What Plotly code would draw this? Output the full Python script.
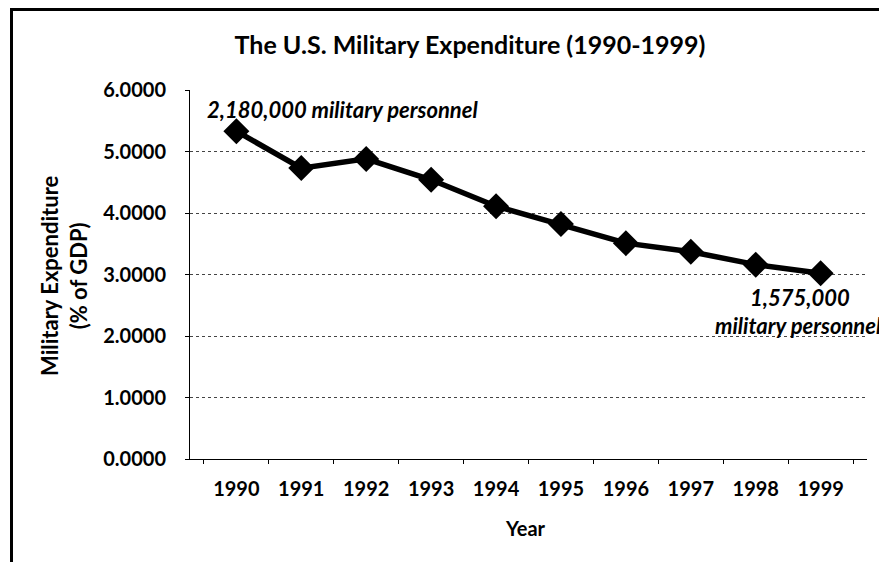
import plotly.graph_objects as go

years = ["1990", "1991", "1992", "1993", "1994", "1995", "1996", "1997", "1998", "1999"]
expenditure = [5.33, 4.73, 4.88, 4.54, 4.11, 3.82, 3.51, 3.37, 3.16, 3.02]
y_ticks = [0, 1, 2, 3, 4, 5, 6]

FONT = "Lato"
OFF = 8  # page body margin
W, H = 879, 554
L, R, T, B = 182, 20, 82, 103
pw, ph = W - L - R, H - T - B


def px2x(page_x):
    return (page_x - OFF - L) / pw


def py2y(page_y):
    return (H - B - (page_y - OFF)) / ph


fig = go.Figure()
fig.add_trace(go.Scatter(
    x=years, y=expenditure, mode="lines+markers",
    line=dict(color="black", width=5.5),
    marker=dict(symbol="diamond", size=20, color="black"),
    showlegend=False,
))

fig.update_layout(
    width=W, height=H,
    margin=dict(l=L, r=R, t=T, b=B),
    paper_bgcolor="white", plot_bgcolor="white",
    font=dict(family=FONT, color="black"),
    title=dict(text="<b>The U.S. Military Expenditure (1990-1999)</b>",
               x=px2x(470), xref="paper", xanchor="center",
               y=1 - (45 - OFF) / H, yanchor="middle",
               font=dict(size=25, family=FONT, color="black")),
    xaxis=dict(
        type="category", showgrid=False, showline=True, linecolor="black", linewidth=1,
        ticks="outside", ticklen=4, tickcolor="black", tickson="boundaries",
        ticklabelstandoff=12,
        tickfont=dict(size=20, family=FONT, color="black", weight="bold"),
    ),
    yaxis=dict(
        range=[0, 6], tickvals=y_ticks, tickformat=".4f",
        showgrid=True, gridcolor="#444444", gridwidth=1, griddash="dot",
        showline=True, linecolor="black", linewidth=1,
        ticks="outside", ticklen=4, tickcolor="black",
        ticklabelstandoff=15,
        tickfont=dict(size=20, family=FONT, color="black", weight="bold"),
        zeroline=False,
    ),
    shapes=[
        dict(type="rect", xref="paper", yref="paper",
             x0=px2x(11.5), x1=px2x(920), y0=py2y(620), y1=py2y(9.5),
             line=dict(color="black", width=3), fillcolor="rgba(0,0,0,0)", layer="above"),
    ],
    annotations=[
        dict(text="<b>Military Expenditure<br>(% of GDP)</b>", xref="paper", yref="paper",
             x=px2x(64), y=py2y(276), xanchor="center", yanchor="middle", showarrow=False,
             textangle=-90, font=dict(size=22, family=FONT, color="black")),
        dict(text="<b>Year</b>", xref="paper", yref="paper",
             x=px2x(525), y=py2y(528), xanchor="center", yanchor="middle", showarrow=False,
             font=dict(size=20, family=FONT, color="black")),
        dict(text="<b><i>2,180,000 military personnel</i></b>", xref="paper", yref="paper",
             x=px2x(205), y=py2y(110), xanchor="left", yanchor="middle", showarrow=False,
             font=dict(size=22, family=FONT, color="black")),
        dict(text="<b><i>1,575,000</i></b>", xref="paper", yref="paper",
             x=px2x(800), y=py2y(297), xanchor="center", yanchor="middle", showarrow=False,
             font=dict(size=22, family=FONT, color="black")),
        dict(text="<b><i>military personnel</i></b>", xref="paper", yref="paper",
             x=px2x(713), y=py2y(325), xanchor="left", yanchor="middle", showarrow=False,
             font=dict(size=22, family=FONT, color="black")),
    ],
)

fig.write_html("out.html")
